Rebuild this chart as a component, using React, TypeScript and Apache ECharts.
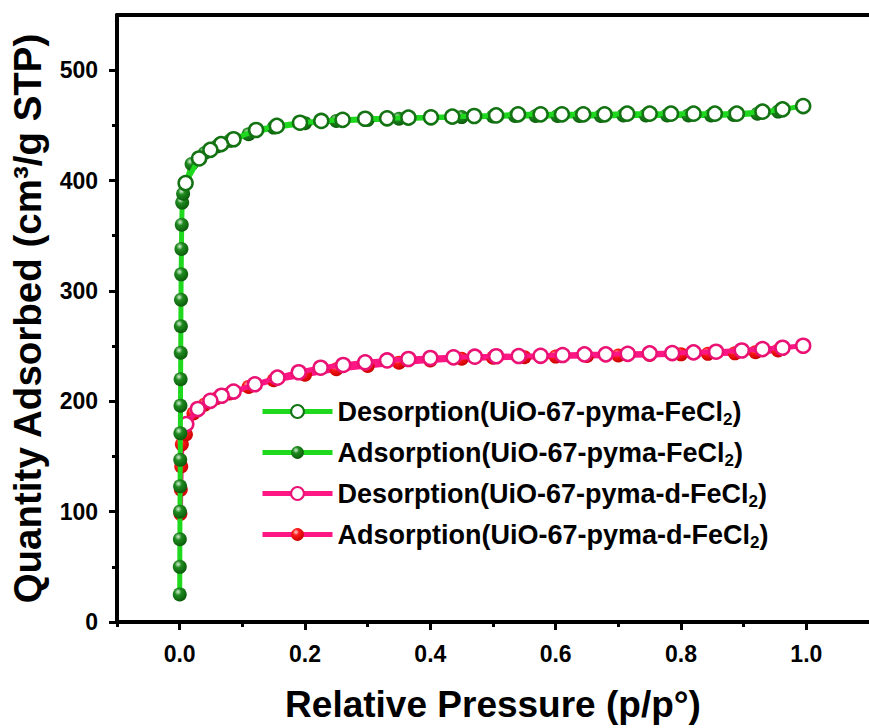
import React, { useEffect, useRef } from "react";
import * as echarts from "echarts";

// Isotherm points: [relative pressure p/p°, quantity adsorbed cm³/g STP]
const pymaAdsorption: [number, number][] = [
  [0.0001, 25], [0.0002, 50], [0.0003, 75], [0.0005, 100], [0.0007, 123],
  [0.0009, 147], [0.0011, 171], [0.0013, 196], [0.0015, 220], [0.0017, 244],
  [0.0019, 268], [0.0021, 292], [0.0024, 315], [0.0028, 338], [0.0033, 360],
  [0.004, 380], [0.0055, 388], [0.019, 415], [0.04, 425], [0.06, 431],
  [0.08, 436], [0.11, 442], [0.15, 448], [0.2, 452], [0.25, 454], [0.3, 455],
  [0.35, 456], [0.4, 457], [0.45, 457.5], [0.5, 458], [0.535, 458.5],
  [0.568, 458.5], [0.603, 458.5], [0.638, 458.5], [0.672, 458.5], [0.708, 459],
  [0.744, 459], [0.778, 459], [0.812, 459], [0.848, 459], [0.884, 459.5],
  [0.922, 460.5], [0.955, 462.5],
];

const pymaDesorption: [number, number][] = [
  [0.995, 467.5], [0.962, 464.5], [0.93, 462.4], [0.889, 460.6], [0.854, 460.6],
  [0.82, 460.6], [0.784, 460.6], [0.75, 460.6], [0.714, 460.6], [0.678, 460],
  [0.644, 460], [0.61, 460], [0.576, 460], [0.54, 460], [0.505, 459],
  [0.47, 458.5], [0.435, 457.9], [0.401, 457.3], [0.365, 457], [0.331, 456.4],
  [0.296, 456], [0.26, 455], [0.226, 454], [0.192, 452.4], [0.155, 449.5],
  [0.122, 445.8], [0.086, 437.4], [0.066, 433], [0.049, 427.8], [0.031, 420],
  [0.0095, 397.7],
];

const pymaDAdsorption: [number, number][] = [
  [0.0012, 98], [0.0018, 120], [0.0025, 141], [0.0035, 161], [0.01, 170],
  [0.022, 189], [0.04, 197], [0.06, 203], [0.08, 207], [0.11, 213],
  [0.15, 219], [0.2, 224], [0.25, 229], [0.3, 232], [0.35, 235], [0.4, 237],
  [0.45, 238.5], [0.5, 239.5], [0.55, 240], [0.6, 240.5], [0.65, 241],
  [0.7, 241.5], [0.75, 242], [0.8, 242.5], [0.843, 243], [0.886, 243.4],
  [0.919, 244.5], [0.955, 246],
];

const pymaDDesorption: [number, number][] = [
  [0.995, 250.3], [0.962, 248.5], [0.93, 247.3], [0.897, 246], [0.856, 244.9],
  [0.82, 244.3], [0.786, 243.7], [0.75, 243.4], [0.715, 243], [0.68, 242.5],
  [0.646, 242.5], [0.611, 241.9], [0.576, 241.2], [0.541, 241], [0.505, 240.8],
  [0.471, 240.4], [0.437, 239.8], [0.4, 239.2], [0.365, 238.3], [0.331, 237],
  [0.296, 235.3], [0.261, 232.9], [0.225, 230.4], [0.19, 226.3], [0.156, 221.4],
  [0.12, 215.4], [0.086, 208.8], [0.067, 205], [0.049, 200.4], [0.029, 193],
  [0.0106, 179.3],
];

const xMajorTicks = [0, 0.2, 0.4, 0.6, 0.8, 1.0];
const xMinorTicks = [-0.1, 0.1, 0.3, 0.5, 0.7, 0.9];
const yMajorTicks = [0, 100, 200, 300, 400, 500];
const yMinorTicks = [50, 150, 250, 350, 450];

const seriesNames = [
  "Desorption(UiO-67-pyma-FeCl2)",
  "Adsorption(UiO-67-pyma-FeCl2)",
  "Desorption(UiO-67-pyma-d-FeCl2)",
  "Adsorption(UiO-67-pyma-d-FeCl2)",
];

const FONT = "'Liberation Sans', Arial, Helvetica, sans-serif";

const sphere = (hi: string, mid: string, dark: string) => ({
  type: "radial",
  x: 0.38,
  y: 0.32,
  r: 0.7,
  colorStops: [
    { offset: 0, color: hi },
    { offset: 0.35, color: mid },
    { offset: 1, color: dark },
  ],
});

export default function App() {
  const ref = useRef<HTMLDivElement>(null);

  useEffect(() => {
    if (!ref.current) return;
    const chart = echarts.init(ref.current, undefined, { renderer: "svg" });

    const green = "#1fd91f";
    const pink = "#ff1685";
    const axisLine = { show: true, onZero: false, lineStyle: { color: "#000", width: 4 } };
    const labelStyle = { color: "#000", fontFamily: FONT, fontWeight: "bold" as const, fontSize: 23 };

    chart.setOption({
      animation: false,
      backgroundColor: "#fff",
      grid: { left: 116, top: 15, width: 756, bottom: 105, containLabel: false },
      legend: {
        data: seriesNames,
        orient: "vertical",
        left: 255,
        top: 390,
        itemWidth: 70,
        itemHeight: 16,
        itemGap: 8,
        lineStyle: { width: 5 },
        formatter: (name: string) => name.replace("FeCl2)", "FeCl{s|2})"),
        textStyle: {
          fontFamily: FONT,
          fontWeight: "bold",
          fontSize: 27,
          color: "#000",
          lineHeight: 30,
          rich: {
            s: { fontFamily: FONT, fontWeight: "bold", fontSize: 17, lineHeight: 17, padding: [16, 0, 0, 0], color: "#000" },
          },
        },
      },
      xAxis: [
        {
          type: "value",
          min: -0.1,
          max: 1.1,
          position: "bottom",
          axisLine,
          axisTick: { show: true, customValues: xMajorTicks, length: 8, lineStyle: { color: "#000", width: 3 } },
          axisLabel: { ...labelStyle, customValues: xMajorTicks, margin: 20, formatter: (v: number) => v.toFixed(1) },
          splitLine: { show: false },
          name: "Relative Pressure (p/p°)",
          nameLocation: "middle",
          nameGap: 64,
          nameTextStyle: { color: "#000", fontFamily: FONT, fontWeight: "bold", fontSize: 37 },
        },
        {
          type: "value",
          min: -0.1,
          max: 1.1,
          position: "bottom",
          axisLine: { show: false, onZero: false },
          axisTick: { show: true, customValues: xMinorTicks, length: 5, lineStyle: { color: "#000", width: 3 } },
          axisLabel: { show: false },
          splitLine: { show: false },
        },
        {
          type: "value",
          min: -0.1,
          max: 1.1,
          position: "top",
          axisLine,
          axisTick: { show: false },
          axisLabel: { show: false },
          splitLine: { show: false },
        },
      ],
      yAxis: [
        {
          type: "value",
          min: 0,
          max: 550,
          position: "left",
          axisLine,
          axisTick: { show: true, customValues: yMajorTicks, length: 8, lineStyle: { color: "#000", width: 3 } },
          axisLabel: { ...labelStyle, customValues: yMajorTicks, margin: 19 },
          splitLine: { show: false },
          name: "Quantity Adsorbed (cm³/g STP)",
          nameLocation: "middle",
          nameGap: 70,
          nameTextStyle: { color: "#000", fontFamily: FONT, fontWeight: "bold", fontSize: 38.5 },
        },
        {
          type: "value",
          min: 0,
          max: 550,
          position: "left",
          axisLine: { show: false, onZero: false },
          axisTick: { show: true, customValues: yMinorTicks, length: 5, lineStyle: { color: "#000", width: 3 } },
          axisLabel: { show: false },
          splitLine: { show: false },
        },
      ],
      series: [
        {
          name: seriesNames[3],
          type: "line",
          data: pymaDAdsorption,
          symbol: "circle",
          symbolSize: 14,
          lineStyle: { color: pink, width: 5 },
          itemStyle: { color: sphere("#ffd6d6", "#ff1a1a", "#c80000"), borderWidth: 0 },
          z: 2,
        },
        {
          name: seriesNames[2],
          type: "line",
          data: pymaDDesorption,
          symbol: "circle",
          symbolSize: 14,
          lineStyle: { color: pink, width: 5 },
          itemStyle: { color: "#fff", borderColor: "#ea1274", borderWidth: 2.5 },
          z: 3,
        },
        {
          name: seriesNames[1],
          type: "line",
          data: pymaAdsorption,
          symbol: "circle",
          symbolSize: 14,
          lineStyle: { color: green, width: 5 },
          itemStyle: { color: sphere("#d8f0d8", "#1f8a1f", "#0a5a0a"), borderWidth: 0 },
          z: 4,
        },
        {
          name: seriesNames[0],
          type: "line",
          data: pymaDesorption,
          symbol: "circle",
          symbolSize: 14,
          lineStyle: { color: green, width: 5 },
          itemStyle: { color: "#fff", borderColor: "#137313", borderWidth: 2.5 },
          z: 5,
        },
      ],
    });

    return () => chart.dispose();
  }, []);

  return (
    <div
      ref={ref}
      style={{ position: "absolute", left: 0, top: 0, width: 869, height: 728 }}
    />
  );
}
